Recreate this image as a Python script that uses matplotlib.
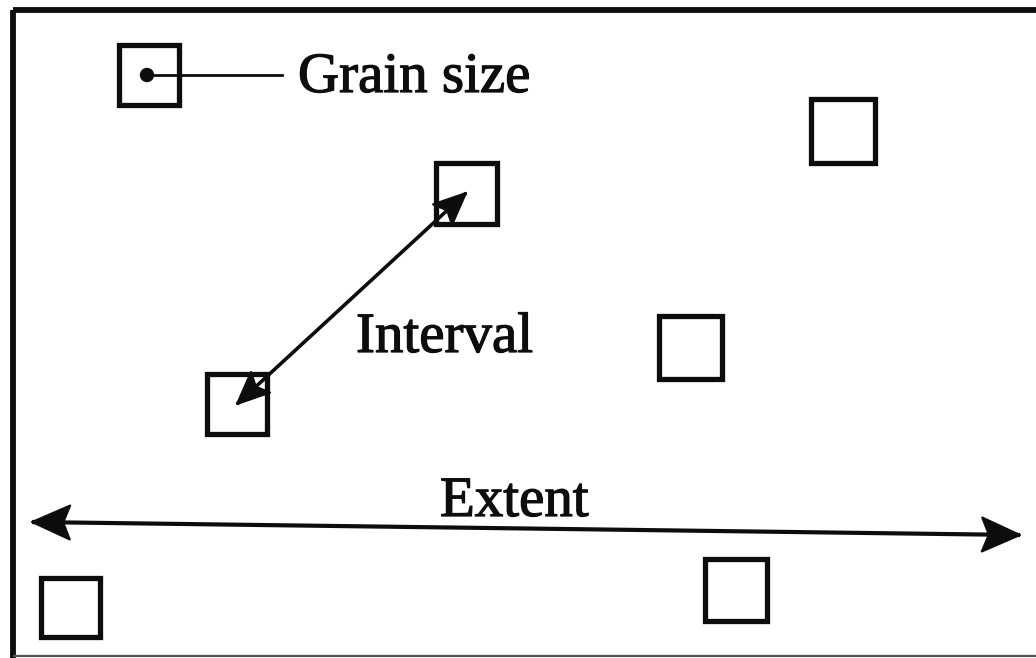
import numpy as np
import matplotlib
matplotlib.use("Agg")
import matplotlib.pyplot as plt
from matplotlib.patches import Rectangle, Polygon, Circle
import matplotlib.patheffects as pe

W, H = 1036, 658

# Squares (sampling units): centre x, centre y (pixel space, y down), side length
sq_x = [149, 843, 466, 237, 690, 70, 736]
sq_y = [75, 131, 193, 404, 347, 607, 590]
sq_s = [60, 64, 61, 60, 63, 59, 62]

# Labels
labels = ["Grain size", "Interval", "Extent"]
label_x = [298, 356, 440]
label_y = [92, 352, 516]

# Grain-size leader line
leader_x = [147, 282]
leader_y = [75, 75]

# Interval arrow joins square 3 and square 2
interval_ends = (3, 2)
# Extent arrow endpoints
extent_x = [32, 1020]
extent_y = [522, 535]

fig = plt.figure(figsize=(W / 100, H / 100), dpi=100)
ax = fig.add_axes([0, 0, 1, 1])
ax.set_xlim(0, W)
ax.set_ylim(H, 0)
ax.axis("off")

INK = "#0d0d0d"

# frame
ax.plot([13, W], [10, 10], color=INK, lw=4.2, solid_capstyle="butt")
ax.plot([13, 13], [10, H], color=INK, lw=4.2, solid_capstyle="butt")
ax.plot([13, W], [656, 656], color="#555555", lw=1.6, solid_capstyle="butt")

# squares
for x, y, s in zip(sq_x, sq_y, sq_s):
    ax.add_patch(Rectangle((x - s / 2, y - s / 2), s, s, fill=False,
                           edgecolor=INK, lw=3.8, joinstyle="miter"))

# grain-size marker
ax.add_patch(Circle((leader_x[0], leader_y[0]), 6.5, color=INK))
ax.plot(leader_x, leader_y, color=INK, lw=2.0)


def stealth_head(tip, back, length, half_w, notch):
    tip = np.asarray(tip, float)
    back = np.asarray(back, float)
    d = (tip - back) / np.linalg.norm(tip - back)
    n = np.array([-d[1], d[0]])
    pts = [tip,
           tip - length * d + half_w * n,
           tip - notch * length * d,
           tip - length * d - half_w * n]
    ax.add_patch(Polygon(pts, closed=True, color=INK, lw=1.5,
                         joinstyle="round"))


def double_arrow(p0, p1, lw, length, half_w, notch):
    ax.plot([p0[0], p1[0]], [p0[1], p1[1]], color=INK, lw=lw,
            solid_capstyle="butt")
    stealth_head(p1, p0, length, half_w, notch)
    stealth_head(p0, p1, length, half_w, notch)


i0, i1 = interval_ends
double_arrow((sq_x[i0], sq_y[i0]), (sq_x[i1], sq_y[i1]),
             lw=2.6, length=32, half_w=14, notch=0.8)
double_arrow((extent_x[0], extent_y[0]), (extent_x[1], extent_y[1]),
             lw=3.0, length=38, half_w=17, notch=0.82)

for t, x, y in zip(labels, label_x, label_y):
    ax.text(x, y, t, fontsize=41, family="Liberation Serif", color=INK,
            ha="left", va="baseline",
            path_effects=[pe.withStroke(linewidth=0.9, foreground=INK)])

fig.savefig("out.png", dpi=100, facecolor="white")
